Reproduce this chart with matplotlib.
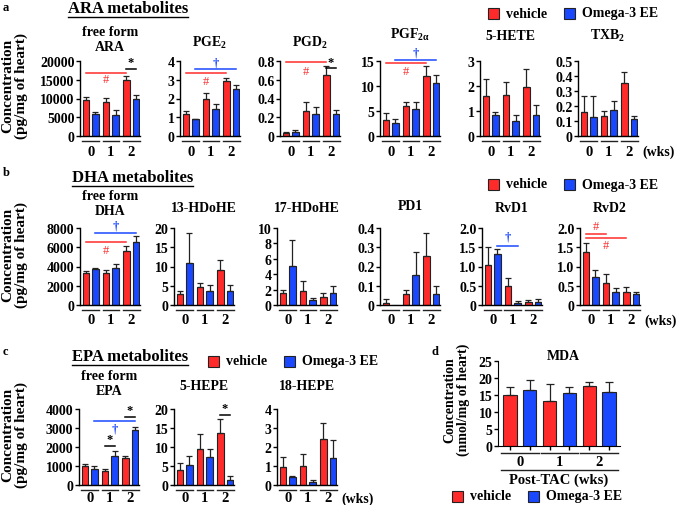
import numpy as np
import matplotlib
matplotlib.use('Agg')
import matplotlib.pyplot as plt
from matplotlib.patches import Rectangle

plt.rcParams['font.family'] = ['Liberation Serif', 'DejaVu Serif']
plt.rcParams['font.weight'] = 'bold'
plt.rcParams['mathtext.fontset'] = 'custom'
plt.rcParams['mathtext.rm'] = 'Liberation Serif:bold'
plt.rcParams['mathtext.it'] = 'Liberation Serif:bold'
plt.rcParams['mathtext.bf'] = 'Liberation Serif:bold'

RED = '#ff2b2b'
BLUE = '#1a48ff'
EDGE = '#222222'

W, H = 676, 506

###########
#  Data   #
###########
# vehicle / omega-3 EE means and upper errors at 0, 1, 2 weeks post-TAC
weeks = ['0', '1', '2']

ara_veh = [9500, 9200, 15000]
ara_omg = [6000, 5700, 10000]
ara_veh_err = [800, 1000, 1000]
ara_omg_err = [400, 1300, 1000]

pge2_veh = [1.2, 1.95, 2.95]
pge2_omg = [0.9, 1.45, 2.5]
pge2_veh_err = [0.12, 0.35, 0.15]
pge2_omg_err = [0.03, 0.25, 0.2]

pgd2_veh = [0.03, 0.27, 0.65]
pgd2_omg = [0.04, 0.24, 0.23]
pgd2_veh_err = [0.01, 0.09, 0.1]
pgd2_omg_err = [0.02, 0.07, 0.05]

pgf2a_veh = [3.3, 6.1, 12.1]
pgf2a_omg = [2.6, 5.5, 10.7]
pgf2a_veh_err = [1.3, 0.7, 1.9]
pgf2a_omg_err = [0.8, 1.4, 1.6]

hete5_veh = [1.6, 1.65, 1.97]
hete5_omg = [0.85, 0.6, 0.85]
hete5_veh_err = [0.7, 0.5, 0.72]
hete5_omg_err = [0.1, 0.25, 0.4]

txb2_veh = [0.16, 0.135, 0.355]
txb2_omg = [0.13, 0.175, 0.115]
txb2_veh_err = [0.11, 0.03, 0.07]
txb2_omg_err = [0.135, 0.06, 0.02]

dha_veh = [3300, 3350, 5650]
dha_omg = [3750, 3850, 6550]
dha_veh_err = [250, 250, 500]
dha_omg_err = [100, 400, 600]

hdohe13_veh = [2.8, 4.6, 9.1]
hdohe13_omg = [10.8, 3.6, 3.6]
hdohe13_veh_err = [0.9, 1.2, 2.5]
hdohe13_omg_err = [7.8, 1.5, 1.7]

hdohe17_veh = [1.6, 1.8, 1.1]
hdohe17_omg = [5.1, 0.7, 1.6]
hdohe17_veh_err = [0.3, 1.3, 0.5]
hdohe17_omg_err = [3.3, 0.2, 0.9]

pd1_veh = [0.012, 0.055, 0.255]
pd1_omg = [0.0, 0.155, 0.055]
pd1_veh_err = [0.02, 0.025, 0.12]
pd1_omg_err = [0.0, 0.12, 0.045]

rvd1_veh = [1.03, 0.5, 0.07]
rvd1_omg = [1.32, 0.06, 0.09]
rvd1_veh_err = [0.48, 0.2, 0.05]
rvd1_omg_err = [0.13, 0.05, 0.07]

rvd2_veh = [1.38, 0.56, 0.33]
rvd2_omg = [0.72, 0.35, 0.28]
rvd2_veh_err = [0.24, 0.24, 0.15]
rvd2_omg_err = [0.18, 0.1, 0.05]

epa_veh = [1020, 760, 1400]
epa_omg = [860, 1520, 2920]
epa_veh_err = [100, 60, 150]
epa_omg_err = [150, 250, 150]

hepe5_veh = [4.0, 9.6, 13.7]
hepe5_omg = [5.2, 7.4, 1.3]
hepe5_veh_err = [1.7, 3.7, 3.8]
hepe5_omg_err = [2.4, 2.2, 1.0]

hepe18_veh = [0.95, 1.0, 2.4]
hepe18_omg = [0.4, 0.17, 1.42]
hepe18_veh_err = [0.5, 0.62, 0.85]
hepe18_omg_err = [0.1, 0.08, 0.95]

mda_veh = [15.0, 13.3, 17.7]
mda_omg = [16.5, 15.6, 15.8]
mda_veh_err = [2.5, 5.0, 1.1]
mda_omg_err = [3.0, 1.8, 3.1]

#############
# Functions #
#############

fig = plt.figure(figsize=(W / 100, H / 100), dpi=100)


def ftext(x, y, s, **kw):
    ''' text placed in pixel coords measured from top-left '''
    return fig.text(x / W, 1 - y / H, s, **kw)


def hline_px(x0, x1, y, col=EDGE, lw=1.0):
    fig.add_artist(plt.Line2D([x0 / W, x1 / W], [1 - y / H, 1 - y / H], color=col, lw=lw,
                              transform=fig.transFigure))


def data_x_px(ax, x):
    return ax.transData.transform((x, 0))[0]


def bar_x(i, group):
    return group * 2.15 + i


def panel(left, top, bottom, veh, omg, veh_err, omg_err, ymax, yticks, title, title_y,
          wks=False, width=60, lab_off=15):
    ax = fig.add_axes([left / W, 1 - bottom / H, width / W, (bottom - top) / H])
    for g in range(3):
        for i, (vals, errs, col) in enumerate([(veh, veh_err, RED), (omg, omg_err, BLUE)]):
            x = bar_x(i, g)
            ax.bar(x, vals[g], width=0.68, color=col, edgecolor=EDGE, linewidth=0.8, zorder=2)
            if errs[g] > 0:
                ax.errorbar(x, vals[g], yerr=[[0], [errs[g]]], color=EDGE, capsize=2.2,
                            elinewidth=0.9, capthick=0.9, zorder=3)
    ax.set_xlim(-0.65, 5.75)
    ax.set_ylim(0, ymax)
    ax.set_yticks(yticks)
    ax.set_yticklabels([('%g' % t) if t != 0 else '0' for t in yticks], fontsize=10)
    ax.set_xticks([])
    for s in ['top', 'right']:
        ax.spines[s].set_visible(False)
    for s in ['left', 'bottom']:
        ax.spines[s].set_linewidth(1.0)
    ax.tick_params(axis='y', length=3, width=1.0, pad=1)
    # group underlines and week labels
    for g in range(3):
        c = bar_x(0.5, g)
        x0, x1 = data_x_px(ax, c - 0.9), data_x_px(ax, c + 0.9)
        hline_px(x0, x1, bottom + 5)
        ftext(data_x_px(ax, c), bottom + lab_off, weeks[g], fontsize=10.5, ha='center',
              va='center')
    if wks:
        ftext(data_x_px(ax, bar_x(0.5, 2)) + 13, bottom + lab_off, '(wks)', fontsize=10,
              ha='left', va='center')
    ftext(left + width / 2, title_y, title, fontsize=10, ha='center', va='center',
          linespacing=1.2)
    return ax


def sig(ax, x0, x1, y, col, sym, sym_y):
    ax.plot([x0, x1], [y, y], color=col, lw=1.1, clip_on=False, zorder=4)
    ax.text((x0 + x1) / 2, sym_y, sym, color=col, fontsize=9, ha='center', va='center',
            clip_on=False, fontweight='normal' if sym == '#' else 'bold')


def legend(x, y):
    for dx, col, lab in [(0, RED, 'vehicle'), (76, BLUE, 'Omega-3 EE')]:
        fig.patches.append(Rectangle(((x + dx) / W, 1 - (y + 5.5) / H), 11 / W, 11 / H,
                                     facecolor=col, edgecolor=EDGE, lw=0.8,
                                     transform=fig.transFigure))
        ftext(x + dx + 18, y, lab, fontsize=10, va='center', ha='left')


def header(x, y, txt):
    t = ftext(x, y, txt, fontsize=12, ha='left', va='center')
    fig.canvas.draw()
    bb = t.get_window_extent()
    hline_px(bb.x0, bb.x1, H - bb.y0 + 1, col='black', lw=1.0)


def ylab(x, y, txt, size=11):
    ftext(x, y, txt, fontsize=size, rotation=90, ha='center', va='center', linespacing=1.05,
          multialignment='center')


conc = 'Concentration\n(pg/mg of heart)'

# ---------------- row a ----------------
ftext(3, 8, 'a', fontsize=9, va='center')
header(68, 9, 'ARA metabolites')
legend(488, 14)
ylab(15, 86, conc)

ax = panel(80, 62, 137, ara_veh, ara_omg, ara_veh_err, ara_omg_err, 20000,
           [0, 5000, 10000, 15000, 20000], 'free form\nARA', 40)
sig(ax, bar_x(0, 0), bar_x(0, 2), 16800, RED, '#', 15200)
sig(ax, bar_x(0, 2), bar_x(1, 2), 18000, 'black', '*', 19700)

ax = panel(180, 62, 137, pge2_veh, pge2_omg, pge2_veh_err, pge2_omg_err, 4,
           [0, 1, 2, 3, 4], r'PGE$_2$', 43)
sig(ax, bar_x(0, 0), bar_x(0, 2), 3.34, RED, '#', 2.93)
sig(ax, bar_x(1, 0), bar_x(1, 2), 3.55, BLUE, '\u2020', 3.9)

ax = panel(280, 62, 137, pgd2_veh, pgd2_omg, pgd2_veh_err, pgd2_omg_err, 0.8,
           [0, 0.2, 0.4, 0.6, 0.8], r'PGD$_2$', 43)
sig(ax, bar_x(0, 0), bar_x(0, 2), 0.79, RED, '#', 0.69)
sig(ax, bar_x(0, 2), bar_x(1, 2), 0.73, 'black', '*', 0.79)

ax = panel(380, 62, 137, pgf2a_veh, pgf2a_omg, pgf2a_veh_err, pgf2a_omg_err, 15,
           [0, 5, 10, 15], r'PGF$_{2\alpha}$', 35)
sig(ax, bar_x(0, 0), bar_x(0, 2), 14.7, RED, '#', 13.0)
sig(ax, bar_x(1, 0), bar_x(1, 2), 15.15, BLUE, '\u2020', 16.6)

ax = panel(480, 62, 137, hete5_veh, hete5_omg, hete5_veh_err, hete5_omg_err, 3,
           [0, 1, 2, 3], '5-HETE', 36)

ax = panel(578, 62, 137, txb2_veh, txb2_omg, txb2_veh_err, txb2_omg_err, 0.5,
           [0, 0.1, 0.2, 0.3, 0.4, 0.5], r'TXB$_2$', 36, wks=True)

# ---------------- row b ----------------
ftext(3, 173, 'b', fontsize=9, va='center')
header(72, 178, 'DHA metabolites')
legend(488, 185)
ylab(15, 255, conc)

ax = panel(80, 229, 306, dha_veh, dha_omg, dha_veh_err, dha_omg_err, 8000,
           [0, 2000, 4000, 6000, 8000], 'free form\nDHA', 204)
sig(ax, bar_x(0, 0), bar_x(0, 2), 6540, RED, '#', 5700)
sig(ax, bar_x(1, 0), bar_x(1, 2), 7510, BLUE, '\u2020', 8250)

ax = panel(174, 229, 306, hdohe13_veh, hdohe13_omg, hdohe13_veh_err, hdohe13_omg_err, 20,
           [0, 5, 10, 15, 20], '13-HDoHE', 208)

ax = panel(277, 229, 306, hdohe17_veh, hdohe17_omg, hdohe17_veh_err, hdohe17_omg_err, 10,
           [0, 2, 4, 6, 8, 10], '17-HDoHE', 208)

ax = panel(380, 229, 306, pd1_veh, pd1_omg, pd1_veh_err, pd1_omg_err, 0.4,
           [0, 0.1, 0.2, 0.3, 0.4], 'PD1', 207)

ax = panel(482, 229, 306, rvd1_veh, rvd1_omg, rvd1_veh_err, rvd1_omg_err, 2.0,
           [0, 0.5, 1.0, 1.5, 2.0], 'RvD1', 208)
ax.set_yticklabels(['0', '0.5', '1.0', '1.5', '2.0'])
sig(ax, bar_x(1, 0), bar_x(1, 1), 1.53, BLUE, '\u2020', 1.78)

ax = panel(580, 229, 306, rvd2_veh, rvd2_omg, rvd2_veh_err, rvd2_omg_err, 2.0,
           [0, 0.5, 1.0, 1.5, 2.0], 'RvD2', 208, wks=True)
ax.set_yticklabels(['0', '0.5', '1.0', '1.5', '2.0'])
sig(ax, bar_x(0, 0), bar_x(0, 1), 1.85, RED, '#', 2.04)
sig(ax, bar_x(0, 0), bar_x(0, 2), 1.75, RED, '#', 1.56)

# ---------------- row c ----------------
ftext(3, 352, 'c', fontsize=9, va='center')
header(72, 357, 'EPA metabolites')
legend(208, 362)
ylab(15, 435, conc)

ax = panel(79, 410, 486, epa_veh, epa_omg, epa_veh_err, epa_omg_err, 4000,
           [0, 1000, 2000, 3000, 4000], 'free form\nEPA', 384, lab_off=13)
sig(ax, bar_x(0, 1), bar_x(1, 1), 2030, 'black', '*', 2420)
sig(ax, bar_x(1, 0), bar_x(1, 2), 3350, BLUE, '\u2020', 2980)
sig(ax, bar_x(0, 2), bar_x(1, 2), 3560, 'black', '*', 3960)

ax = panel(174, 410, 486, hepe5_veh, hepe5_omg, hepe5_veh_err, hepe5_omg_err, 20,
           [0, 5, 10, 15, 20], '5-HEPE', 387, lab_off=13)
sig(ax, bar_x(0, 2), bar_x(1, 2), 18.5, 'black', '*', 20.3)

ax = panel(277, 410, 486, hepe18_veh, hepe18_omg, hepe18_veh_err, hepe18_omg_err, 4,
           [0, 1, 2, 3, 4], '18-HEPE', 387, wks=True, lab_off=13)

# ---------------- panel d ----------------
ftext(431, 352, 'd', fontsize=9, va='center')
d_left, d_top, d_bottom, d_w = 498, 362, 447, 122
ax = fig.add_axes([d_left / W, 1 - d_bottom / H, d_w / W, (d_bottom - d_top) / H])
for g in range(3):
    for i, (vals, errs, col) in enumerate([(mda_veh, mda_veh_err, RED),
                                           (mda_omg, mda_omg_err, BLUE)]):
        x = 2 * g + i
        ax.bar(x, vals[g], width=0.68, color=col, edgecolor=EDGE, linewidth=0.8, zorder=2)
        ax.errorbar(x, vals[g], yerr=[[0], [errs[g]]], color=EDGE, capsize=3,
                    elinewidth=0.9, capthick=0.9, zorder=3)
ax.set_xlim(-0.6, 5.55)
ax.set_ylim(0, 25)
ax.set_yticks([0, 5, 10, 15, 20, 25])
ax.set_yticklabels(['0', '5', '10', '15', '20', '25'], fontsize=10)
for s in ['top', 'right']:
    ax.spines[s].set_visible(False)
ax.tick_params(axis='y', length=3, width=1.0, pad=1)
ax.set_xticks(np.arange(6))
ax.set_xticklabels([])
ax.tick_params(axis='x', length=3, width=1.0, direction='out')
for g in range(3):
    c = 2 * g + 0.5
    hline_px(data_x_px(ax, c - 0.95), data_x_px(ax, c + 0.95), d_bottom + 7)
    ftext(data_x_px(ax, c), d_bottom + 16, weeks[g], fontsize=10.5, ha='center', va='center')
hline_px(data_x_px(ax, -0.45), data_x_px(ax, 5.45), d_bottom + 24)
ftext(d_left + d_w / 2, d_bottom + 33, 'Post-TAC (wks)', fontsize=10.5, ha='center',
      va='center')
ftext(d_left + d_w / 2 + 4, 357, 'MDA', fontsize=10, ha='center', va='center')
ylab(457, 400, 'Concentration\n(nmol/mg of heart)', size=10)
legend(452, 497)

fig.savefig('out.png', dpi=100)
